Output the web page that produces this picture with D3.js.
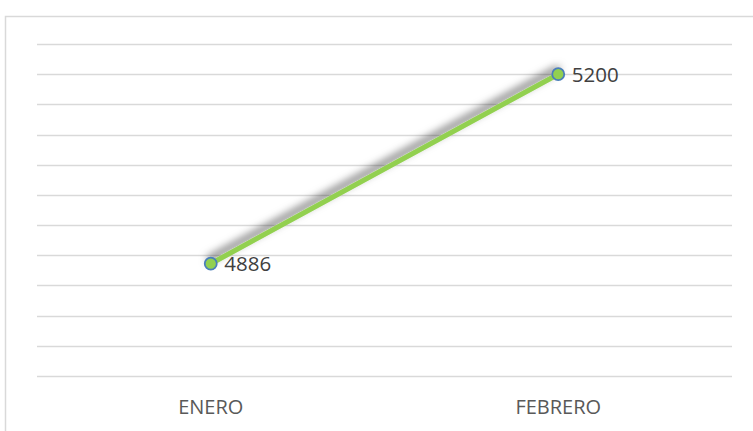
<!DOCTYPE html>
<html><head><meta charset="utf-8">
<script src="https://cdn.jsdelivr.net/npm/d3@7"></script>
<style>body{margin:0;background:#fff}svg{display:block}</style>
</head><body>
<script>
const categories = ["ENERO", "FEBRERO"];
const values = [4886, 5200];
const yTicks = [4700, 4750, 4800, 4850, 4900, 4950, 5000, 5050, 5100, 5150, 5200, 5250];

const W = 753, H = 431;
const svg = d3.select("body").append("svg").attr("width", W).attr("height", H);

const defs = svg.append("defs");
const f = defs.append("filter").attr("id", "sh").attr("x", "-20%").attr("y", "-50%").attr("width", "140%").attr("height", "200%");
f.append("feDropShadow").attr("dx", -1).attr("dy", -5).attr("stdDeviation", 4)
  .attr("flood-color", "#000").attr("flood-opacity", 0.65);

svg.append("rect").attr("x", 5.5).attr("y", 16.5).attr("width", 900).attr("height", 600)
  .attr("fill", "none").attr("stroke", "#d9d9d9").attr("stroke-width", 1.5);

const x = d3.scaleBand().domain(categories).range([37, 732]);
const y = d3.scaleLinear().domain([4700, 5250]).range([376, 44]);

svg.append("g").selectAll("line").data(yTicks).join("line")
  .attr("x1", 37).attr("x2", 732)
  .attr("y1", d => Math.round(y(d)) + 0.5).attr("y2", d => Math.round(y(d)) + 0.5)
  .attr("stroke", "#d9d9d9").attr("stroke-width", 1.5);

const xAxis = svg.append("g").attr("transform", "translate(0,376)")
  .call(d3.axisBottom(x).tickSize(0).tickPadding(24));
xAxis.select(".domain").remove();
xAxis.selectAll("text").attr("font-family", "'Open Sans', sans-serif").attr("font-size", 20)
  .attr("fill", "#595959");

const data = categories.map((c, i) => ({c, v: values[i]}));
const line = d3.line().x(d => x(d.c) + x.bandwidth() / 2).y(d => y(d.v));

svg.append("path").datum(data).attr("d", line)
  .attr("fill", "none").attr("stroke", "#92d050").attr("stroke-width", 5)
  .attr("stroke-linecap", "round").attr("filter", "url(#sh)");

svg.append("g").selectAll("circle").data(data).join("circle")
  .attr("cx", d => x(d.c) + x.bandwidth() / 2).attr("cy", d => y(d.v)).attr("r", 6)
  .attr("fill", "#92d050").attr("stroke", "#4a7ebb").attr("stroke-width", 1.75);

svg.append("g").selectAll("text").data(data).join("text")
  .attr("x", d => x(d.c) + x.bandwidth() / 2 + 13.5).attr("y", d => y(d.v))
  .attr("dy", "0.36em")
  .attr("font-family", "'Open Sans', sans-serif").attr("font-size", 20.5)
  .attr("fill", "#404040").text(d => d.v);
</script>
</body></html>
